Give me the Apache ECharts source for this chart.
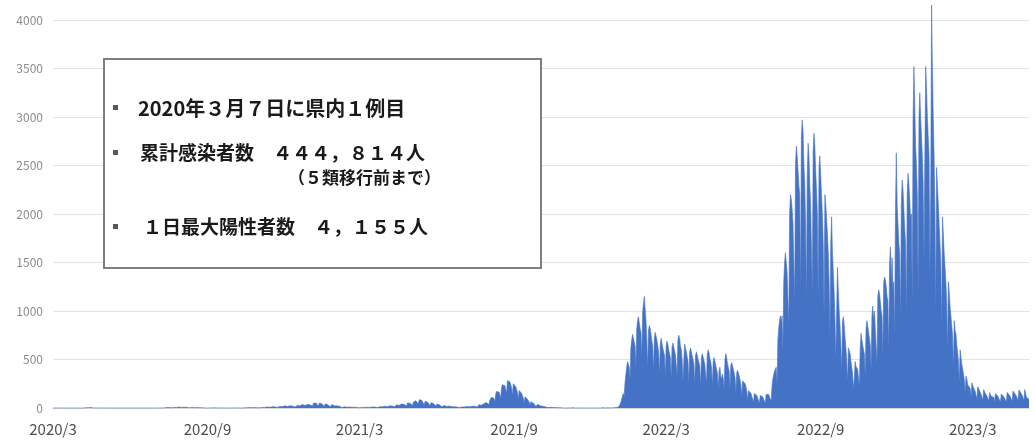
<!DOCTYPE html>
<html>
<head>
<meta charset="utf-8">
<script src="https://cdn.jsdelivr.net/npm/echarts/dist/echarts.min.js"></script>
<style>
html,body{margin:0;padding:0;background:#fff;}
#chart{width:1035px;height:441px;}
</style>
</head>
<body>
<div id="chart"></div>
<script>
// Daily new cases, one row per week (Sun..Sat), starting 2020/3/1
const casesFrom2020_03_01 = [
0,0,0,0,0,0,1, 0,0,0,0,0,0,0, 0,0,0,1,0,0,0, 0,0,0,0,1,0,0,
0,1,0,2,1,0,1, 2,0,3,1,2,4,2, 3,1,2,4,3,2,1, 2,0,1,2,1,1,0,
1,0,1,0,1,0,0, 0,0,0,1,0,0,0, 0,0,0,0,0,0,0, 0,0,0,0,0,0,0,
0,0,0,0,0,0,0, 0,0,0,0,0,0,0, 0,0,0,0,0,0,0, 0,0,0,0,1,0,0,
0,0,0,0,0,0,0, 0,0,1,0,0,1,0, 1,0,2,1,3,2,1, 2,1,4,3,5,4,3,
4,2,6,7,5,6,4, 5,3,8,10,7,6,5, 6,3,9,11,8,7,6, 5,2,7,8,6,5,4,
3,2,5,4,3,3,2, 2,1,3,2,2,1,1, 1,0,2,1,1,2,1, 1,0,1,2,1,0,1,
0,0,1,1,2,1,0, 1,0,1,0,1,1,0, 0,1,2,1,1,0,1, 1,0,1,2,1,1,1,
1,0,2,3,2,1,2, 2,1,3,4,3,2,2, 3,1,4,5,4,3,4, 4,2,6,7,5,6,5,
6,3,9,10,8,9,7, 8,5,12,14,11,13,10, 12,6,15,18,16,14,13, 14,8,18,22,20,17,15,
16,9,22,25,21,20,18, 20,10,26,30,27,24,22, 22,12,30,35,28,30,26, 28,14,36,40,38,33,30,
35,18,48,60,55,52,45, 40,20,50,56,48,45,38, 32,16,42,45,40,36,30, 25,12,32,35,28,26,22,
18,8,22,24,20,18,15, 12,5,15,16,13,12,10, 8,4,10,11,9,8,7, 6,3,8,9,7,6,5,
5,2,7,8,6,7,5, 6,3,8,9,8,7,6, 7,4,10,11,9,10,8, 9,5,12,14,12,13,10,
12,6,16,18,17,15,14, 16,8,22,25,24,20,18, 22,12,30,34,32,28,26, 30,15,40,45,42,38,35,
38,20,52,60,56,50,46, 45,25,60,72,80,76,70, 75,40,85,92,88,80,72, 62,32,70,75,68,60,55,
48,24,55,58,52,46,40, 35,18,40,42,38,34,30, 25,12,28,30,26,22,20, 16,8,18,20,17,15,13,
11,5,12,14,12,10,9, 8,4,10,12,11,10,9, 10,5,12,15,14,13,12, 14,7,18,22,20,19,18,
20,10,28,34,32,30,28, 30,15,45,55,60,56,52, 55,35,80,100,110,105,98, 100,60,140,170,190,180,165,
160,100,210,240,260,245,230, 220,150,280,300,290,270,250, 210,130,250,265,240,220,200, 160,90,180,190,170,150,130,
100,55,115,120,105,90,80, 60,30,65,70,58,50,42, 32,15,35,38,30,26,22, 16,8,18,20,15,12,10,
8,4,9,10,8,6,5, 4,2,5,6,4,3,3, 2,1,3,2,2,1,1, 1,0,2,1,1,0,1,
1,0,1,2,1,0,0, 0,0,1,1,0,1,0, 1,0,0,1,1,0,1, 0,0,1,0,1,1,0,
1,0,1,2,1,1,0, 1,0,2,1,2,1,1, 1,0,1,2,1,2,1, 2,1,3,2,4,5,6
];
// from 2022/1/2
const casesFrom2022_01_02 = [
8,7,18,35,60,90,110, 150,120,260,340,420,480,450, 420,300,620,700,760,740,680, 640,420,820,900,940,880,820,
780,520,980,1080,1150,1020,900, 700,420,800,850,820,760,690, 640,380,720,780,760,700,640, 580,340,660,720,700,620,600,
540,320,640,690,660,600,560, 520,300,630,670,650,590,550, 560,330,700,750,720,640,600, 500,280,480,660,640,580,530,
480,260,580,620,600,540,500, 450,240,540,580,560,500,470, 430,230,520,560,550,490,450, 460,250,560,600,570,510,480,
420,220,480,520,500,440,400, 360,200,380,420,330,300,350, 300,200,500,560,520,460,420, 380,200,440,470,450,400,360,
310,160,360,390,370,330,290, 240,120,280,300,280,250,220, 170,80,180,175,165,150,140, 130,60,150,145,140,130,120,
110,50,130,125,120,115,105, 110,50,140,150,145,140,130, 150,70,220,300,340,380,360, 420,250,700,820,900,950,880,
950,600,1300,1500,1600,1500,1400, 1400,850,2000,2200,2150,2050,1900, 1900,1100,2500,2700,2600,2450,2300, 2200,1200,2800,2970,2850,2500,2300,
1900,1100,2400,2730,2600,2300,2100, 2100,1200,2650,2830,2700,2450,2250, 2000,1150,2480,2600,2400,2200,2000, 1700,950,2200,2100,1950,1800,1600,
1300,750,1700,1970,1600,1400,1200, 900,500,1000,1450,1200,1000,850, 650,380,900,940,850,720,620, 480,270,620,600,560,480,420,
350,200,300,480,430,420,400, 380,220,600,770,700,650,600, 560,330,820,900,850,780,720, 650,400,950,1050,900,1000,820,
800,450,1150,1220,1180,1100,1000, 950,520,1300,1350,1320,1250,1150, 1100,600,1500,1660,1300,1550,1250, 1300,750,2000,2630,2100,1900,1700,
1600,900,2100,2350,2250,2050,1850, 1700,950,2200,2420,2300,2150,1950, 2000,1100,3000,3520,3100,2700,2500, 2200,1200,3000,3250,3000,2800,2600
];
// from 2023/1/1 to 2023/5/7
const casesFrom2023_01_01 = [
2300,1500,2600,3520,3300,3000,2800, 2600,1400,2200,4155,3500,3000,2600, 2000,1000,2480,2300,2100,1900,1700, 1500,800,1970,1800,1600,1450,1300,
1100,600,1300,1200,1050,950,850, 750,400,900,800,770,650,580, 480,260,600,520,450,400,350, 290,160,330,300,240,260,230,
200,110,260,240,210,190,170, 160,90,220,200,180,160,140, 140,80,190,170,150,140,120, 120,70,160,150,120,130,110,
110,65,150,140,130,120,105, 105,60,145,135,125,115,100, 110,65,160,150,140,130,115, 120,70,175,160,150,140,125,
130,75,185,170,160,150,130, 120,80,190,150,110,90,100, 90
];
const tickLabels = ['2020/3','2020/9','2021/3','2021/9','2022/3','2022/9','2023/3'];
const startDate = [2020, 3, 1];
const yTicks = {min: 0, max: 4000, step: 500};
const noteLines = [
  '2020年３月７日に県内１例目',
  '累計感染者数　４４４，８１４人',
  '（５類移行前まで）',
  '１日最大陽性者数　４，１５５人'
];

const values = casesFrom2020_03_01.concat(casesFrom2022_01_02, casesFrom2023_01_01);
const dates = [];
for (let i = 0; i < values.length; i++) {
  const d = new Date(Date.UTC(startDate[0], startDate[1] - 1, startDate[2] + i));
  dates.push(d.getUTCFullYear() + '/' + (d.getUTCMonth() + 1) + '/' + d.getUTCDate());
}

const chart = echarts.init(document.getElementById('chart'), null, {renderer: 'canvas'});
const font = '"Noto Sans CJK JP", "Noto Sans", sans-serif';
const noteStyle = {fontFamily: font, fill: '#1a1a1a', fontWeight: 'bold', verticalAlign: 'middle'};
chart.setOption({
  animation: false,
  backgroundColor: '#ffffff',
  grid: {left: 53, right: 6, top: 20, bottom: 33, containLabel: false},
  xAxis: {
    type: 'category',
    data: dates,
    boundaryGap: false,
    axisLine: {show: true, lineStyle: {color: '#d9d9d9', width: 1}},
    axisTick: {show: false},
    splitLine: {show: false},
    axisLabel: {
      interval: function (idx, val) {
        const p = String(val).split('/');
        return p[2] === '1' && tickLabels.indexOf(p[0] + '/' + p[1]) >= 0;
      },
      formatter: function (val) { const p = val.split('/'); return p[0] + '/' + p[1]; },
      color: '#4d4d4d', fontSize: 15, fontFamily: font, margin: 14, hideOverlap: false
    }
  },
  yAxis: {
    type: 'value',
    min: yTicks.min, max: yTicks.max, interval: yTicks.step,
    axisLine: {show: false},
    axisTick: {show: false},
    splitLine: {lineStyle: {color: '#e3e3e3', width: 1}},
    axisLabel: {color: '#8c8c8c', fontSize: 12, fontFamily: font, margin: 10,
                formatter: function (v) { return String(v); }}
  },
  series: [{
    type: 'line',
    data: values,
    showSymbol: false,
    symbol: 'none',
    clip: false,
    lineStyle: {color: '#4472C4', width: 0.6},
    areaStyle: {color: '#4472C4', opacity: 1},
    itemStyle: {color: '#4472C4'}
  }],
  graphic: [
    {type: 'rect', z: 100, shape: {x: 104, y: 59, width: 437, height: 209},
     style: {fill: '#ffffff', stroke: '#7f7f7f', lineWidth: 2}},
    {type: 'rect', z: 101, shape: {x: 113, y: 105, width: 5, height: 5}, style: {fill: '#595959'}},
    {type: 'rect', z: 101, shape: {x: 113, y: 150, width: 5, height: 5}, style: {fill: '#595959'}},
    {type: 'rect', z: 101, shape: {x: 113, y: 224, width: 5, height: 5}, style: {fill: '#595959'}},
    {type: 'text', z: 101, x: 138, y: 108, style: Object.assign({text: noteLines[0], fontSize: 20}, noteStyle)},
    {type: 'text', z: 101, x: 140, y: 153, style: Object.assign({text: noteLines[1], fontSize: 19}, noteStyle)},
    {type: 'text', z: 101, x: 288, y: 178, style: Object.assign({text: noteLines[2], fontSize: 17}, noteStyle)},
    {type: 'text', z: 101, x: 143, y: 227, style: Object.assign({text: noteLines[3], fontSize: 19}, noteStyle)}
  ]
});
</script>
</body>
</html>
